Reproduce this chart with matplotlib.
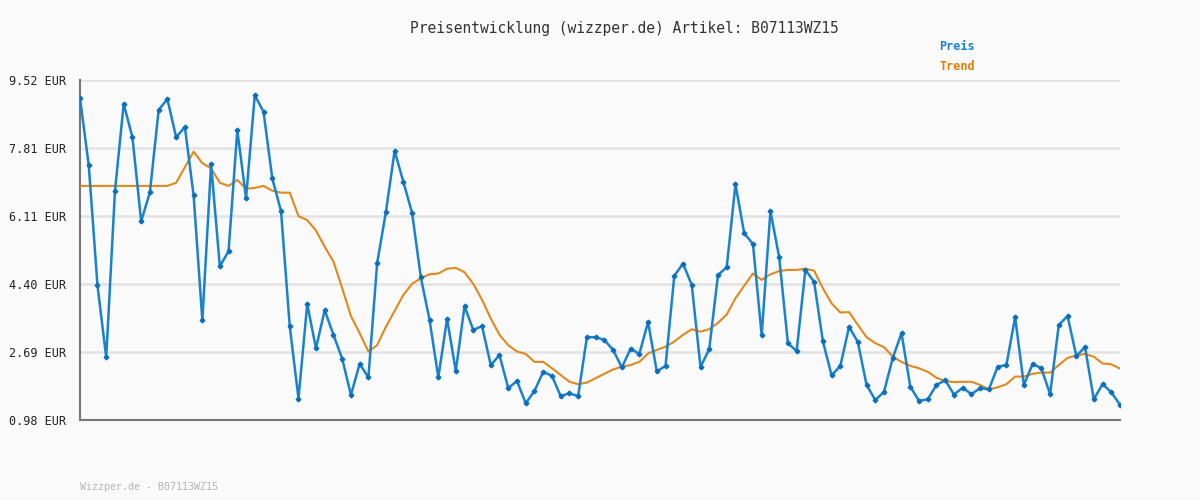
import matplotlib
matplotlib.use("Agg")
import matplotlib.pyplot as plt
import numpy as np

# price readings, one per day
preis = [
    9.06, 7.38, 4.36, 2.55, 6.73, 8.92, 8.08, 5.97, 6.70, 8.77,
    9.04, 8.08, 8.34, 6.62, 3.48, 7.40, 4.84, 5.22, 8.26, 6.55,
    9.14, 8.72, 7.05, 6.23, 3.33, 1.52, 3.89, 2.78, 3.74, 3.12,
    2.52, 1.61, 2.39, 2.05, 4.92, 6.20, 7.74, 6.96, 6.18, 4.56,
    3.49, 2.05, 3.52, 2.21, 3.84, 3.24, 3.34, 2.36, 2.61, 1.78,
    1.96, 1.40, 1.71, 2.19, 2.09, 1.58, 1.65, 1.58, 3.06, 3.06,
    2.99, 2.74, 2.30, 2.77, 2.64, 3.44, 2.20, 2.34, 4.60, 4.91,
    4.37, 2.31, 2.76, 4.62, 4.82, 6.90, 5.67, 5.40, 3.11, 6.23,
    5.07, 2.91, 2.71, 4.75, 4.45, 2.96, 2.10, 2.34, 3.32, 2.94,
    1.86, 1.48, 1.69, 2.54, 3.16, 1.82, 1.46, 1.50, 1.86, 1.98,
    1.62, 1.79, 1.63, 1.78, 1.75, 2.32, 2.36, 3.56, 1.86, 2.39,
    2.28, 1.63, 3.37, 3.59, 2.59, 2.81, 1.50, 1.88, 1.68, 1.36,
]

trend = [
    6.86, 6.86, 6.86, 6.86, 6.86, 6.86, 6.86, 6.86, 6.86, 6.86,
    6.86, 6.94, 7.33, 7.72, 7.43, 7.30, 6.94, 6.86, 7.01, 6.79,
    6.81, 6.86, 6.74, 6.69, 6.69, 6.10, 6.00, 5.74, 5.33, 4.96,
    4.29, 3.59, 3.16, 2.70, 2.86, 3.32, 3.72, 4.12, 4.40, 4.54,
    4.64, 4.66, 4.78, 4.80, 4.69, 4.40, 4.00, 3.53, 3.12, 2.86,
    2.70, 2.64, 2.44, 2.44, 2.28, 2.11, 1.94, 1.88, 1.92, 2.03,
    2.14, 2.25, 2.32, 2.36, 2.44, 2.65, 2.74, 2.82, 2.95, 3.12,
    3.26, 3.20, 3.26, 3.42, 3.63, 4.04, 4.35, 4.66, 4.50, 4.64,
    4.72, 4.75, 4.75, 4.78, 4.73, 4.29, 3.91, 3.68, 3.69, 3.37,
    3.06, 2.91, 2.81, 2.57, 2.44, 2.34, 2.28, 2.19, 2.04, 1.96,
    1.93, 1.94, 1.94, 1.86, 1.75, 1.80, 1.88, 2.07, 2.07, 2.14,
    2.17, 2.17, 2.36, 2.54, 2.60, 2.64, 2.57, 2.40, 2.38, 2.27,
]

y_ticks = [0.98, 2.69, 4.40, 6.11, 7.81, 9.52]
y_labels = ["0.98 EUR", "2.69 EUR", "4.40 EUR", "6.11 EUR", "7.81 EUR", "9.52 EUR"]

title = "Preisentwicklung (wizzper.de) Artikel: B07113WZ15"
footer = "Wizzper.de - B07113WZ15"

BG = "#fafafa"
BLUE = "#1a82cc"
ORANGE = "#e0891c"
MONO = "DejaVu Sans Mono"

fig = plt.figure(figsize=(12, 5), dpi=100, facecolor=BG)
ax = fig.add_axes([80 / 1200, 80 / 500, 1040 / 1200, 340 / 500], facecolor=BG)

x = np.arange(len(preis))
ax.plot(x, trend, color=ORANGE, lw=1.5, zorder=3)
ax.plot(x, preis, color=BLUE, lw=1.8, marker="D", ms=2.4,
        mfc="#0b6fbf", mec="#0b6fbf", zorder=4)

ax.set_xlim(0, len(preis) - 1)
ax.set_ylim(y_ticks[0], y_ticks[-1])
ax.set_yticks(y_ticks)
ax.set_yticklabels(y_labels, fontfamily=MONO, fontsize=8.5, color="#222222")
ax.set_xticks([])
ax.tick_params(axis="y", length=0, pad=10)
ax.grid(axis="y", color="#e3e3e3", lw=1.8, zorder=0)
ax.set_axisbelow(True)

for side in ("top", "right"):
    ax.spines[side].set_visible(False)
for side in ("left", "bottom"):
    ax.spines[side].set_color("#777777")
    ax.spines[side].set_linewidth(1.5)

fig.text(624 / 1200, 1 - 28 / 500, title, ha="center", va="center",
         fontfamily=MONO, fontsize=10.5, color="#333333")
fig.text(939 / 1200, 1 - 47 / 500, "Preis", ha="left", va="center",
         fontfamily=MONO, fontsize=8.5, color=BLUE, fontweight="bold")
fig.text(939 / 1200, 1 - 67 / 500, "Trend", ha="left", va="center",
         fontfamily=MONO, fontsize=8.5, color="#d97f0c", fontweight="bold")
fig.text(80 / 1200, 1 - 487 / 500, footer, ha="left", va="center",
         fontfamily=MONO, fontsize=7.2, color="#b5b5b5")

fig.savefig("out.png", dpi=100, facecolor=BG)
